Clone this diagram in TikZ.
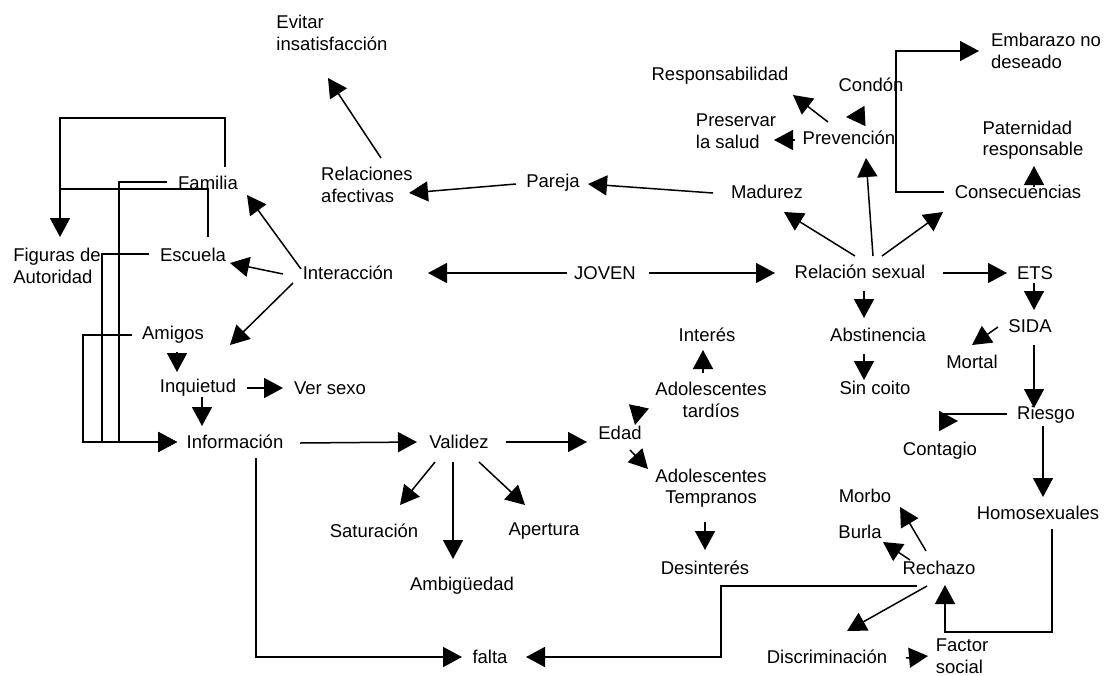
\documentclass[tikz,border=0pt]{standalone}
\usepackage{fontspec}
\setmainfont{Liberation Sans}
\usetikzlibrary{arrows.meta}

\begin{document}
\begin{tikzpicture}[x=1pt,y=-1pt,
        every node/.style={inner sep=0pt,font=\fontsize{18.5}{21.5}\selectfont},
        ln/.style={line width=1.5pt},
        arr/.style={line width=1.5pt,-{Triangle[length=19pt,width=20pt]}}]
        \useasboundingbox (0,0) rectangle (1107,675);
        % left side
        \node[align=left] (evitar) at (332,33) {Evitar\\insatisfacción};
        \node[align=left] (relaciones) at (367,185) {Relaciones\\afectivas};
        \node (pareja) at (553,183) {Pareja};
        \node (familia) at (208,183) {Familia};
        \node (escuela) at (193,255) {Escuela};
        \node[align=left] (figuras) at (57,266) {Figuras de\\Autoridad};
        \node (interaccion) at (348,273) {Interacción};
        \node (joven) at (605,273) {JOVEN};
        \node (amigos) at (173,335) {Amigos};
        \node (inquietud) at (198,388) {Inquietud};
        \node (versexo) at (330,388) {Ver sexo};
        \node (informacion) at (235,442) {Información};
        \node (validez) at (459,442) {Validez};
        \node (saturacion) at (374,531) {Saturación};
        \node (ambiguedad) at (462,586) {Ambigüedad};
        \node (apertura) at (544,531) {Apertura};
        \node (falta) at (490,657) {falta};
        % edad
        \node (interes) at (707,335) {Interés};
        \node[align=center] (tardios) at (711,400) {Adolescentes\\tardíos};
        \node (edad) at (620,433) {Edad};
        \node[align=center] (tempranos) at (711,488) {Adolescentes\\Tempranos};
        \node (desinteres) at (705,568) {Desinterés};
        % right side
        \node (responsab) at (720,76) {Responsabilidad};
        \node[align=left] (preservar) at (736,131) {Preservar\\la salud};
        \node (condon) at (871,85) {Condón};
        \node (prevencion) at (849,138) {Prevención};
        \node (madurez) at (767,192) {Madurez};
        \node[align=left] (embarazo) at (1046,51) {Embarazo no\\deseado};
        \node[align=left] (paternidad) at (1033,140) {Paternidad\\responsable};
        \node (consecuencias) at (1018,192) {Consecuencias};
        \node (relsexual) at (860,272) {Relación sexual};
        \node (ets) at (1035,273) {ETS};
        \node (sida) at (1030,326) {SIDA};
        \node (mortal) at (972,362) {Mortal};
        \node (abstinencia) at (878,335) {Abstinencia};
        \node (sincoito) at (875,388) {Sin coito};
        \node (riesgo) at (1046,415) {Riesgo};
        \node (contagio) at (940,451) {Contagio};
        \node (homosexuales) at (1038,513) {Homosexuales};
        \node (morbo) at (865,496) {Morbo};
        \node (burla) at (860,532) {Burla};
        \node (rechazo) at (939,568) {Rechazo};
        \node (discrim) at (827,657) {Discriminación};
        \node[align=left] (factor) at (962,656) {Factor\\social};

        % JOVEN
        \draw[arr] ([shift={(-38,0)}]joven.center) -- ([shift={(80,0)}]interaccion.center);
        \draw[arr] ([shift={(44,0)}]joven.center) -- ([shift={(-85,1)}]relsexual.center);
        % interaccion
        \draw[arr] ([shift={(-47,-4)}]interaccion.center) -- ([shift={(39,12)}]familia.center);
        \draw[arr] ([shift={(-65,1)}]interaccion.center) -- ([shift={(37,8)}]escuela.center);
        \draw[arr] ([shift={(-55,10)}]interaccion.center) -- ([shift={(57,10)}]amigos.center);
        \draw[arr] ([shift={(17,-16)}]familia.center) -- ++(0,-49) -| ([shift={(3,-29)}]figuras.center);
        \draw[ln] ([shift={(15,-18)}]escuela.center) |- ([shift={(3,-77)}]figuras.center);
        \draw[arr] ([shift={(-41,-1)}]familia.center) -- ++(-48,0) |- ([shift={(-58,0)}]informacion.center);
        \draw[arr] ([shift={(-44,-1)}]escuela.center) -- ++(-47,0) |- ([shift={(-58,0)}]informacion.center);
        \draw[arr] ([shift={(-41,0)}]amigos.center) -- ++(-49,0) |- ([shift={(-58,0)}]informacion.center);
        \draw[arr] ([shift={(4,17)}]amigos.center) -- ([shift={(-21,-16)}]inquietud.center);
        \draw[arr] ([shift={(4,9)}]inquietud.center) -- ([shift={(-33,-16)}]informacion.center);
        \draw[arr] ([shift={(49,0)}]inquietud.center) -- ([shift={(-47,0)}]versexo.center);
        % informacion, validez
        \draw[arr] ([shift={(65,1)}]informacion.center) -- ([shift={(-42,0)}]validez.center);
        \draw[arr] ([shift={(21,16)}]informacion.center) |- ([shift={(-28,0)}]falta.center);
        \draw[arr] ([shift={(47,0)}]validez.center) -- ([shift={(-33,9)}]edad.center);
        \draw[arr] ([shift={(-24,20)}]validez.center) -- ([shift={(26,-26)}]saturacion.center);
        \draw[arr] ([shift={(-6,20)}]validez.center) -- ([shift={(-9,-27)}]ambiguedad.center);
        \draw[arr] ([shift={(20,20)}]validez.center) -- ([shift={(-19,-26)}]apertura.center);
        % edad
        \draw[arr] ([shift={(-72,6)}]tardios.center) -- ([shift={(15,-8)}]edad.center);
        \draw[arr] ([shift={(10,17)}]edad.center) -- ([shift={(-63,-19)}]tempranos.center);
        \draw[arr] ([shift={(-8,-27)}]tardios.center) -- ([shift={(-4,15)}]interes.center);
        \draw[arr] ([shift={(-6,34)}]tempranos.center) -- ([shift={(0,-18)}]desinteres.center);
        % relacion sexual
        \draw[arr] ([shift={(-54,1)}]madurez.center) -- ([shift={(35,1)}]pareja.center);
        \draw[arr] ([shift={(-37,1)}]pareja.center) -- ([shift={(42,8)}]relaciones.center);
        \draw[arr] ([shift={(14,-27)}]relaciones.center) -- ([shift={(-4,45)}]evitar.center);
        \draw[arr] ([shift={(-5,-16)}]relsexual.center) -- ([shift={(17,20)}]madurez.center);
        \draw[arr] ([shift={(13,-16)}]relsexual.center) -- ([shift={(17,20)}]prevencion.center);
        \draw[arr] ([shift={(22,-16)}]relsexual.center) -- ([shift={(-75,20)}]consecuencias.center);
        \draw[arr] ([shift={(-21,-16)}]prevencion.center) -- ([shift={(73,19)}]responsab.center);
        \draw[arr] ([shift={(16,-22)}]prevencion.center) -- ([shift={(-25,32)}]condon.center);
        \draw[arr] ([shift={(-54,2)}]prevencion.center) -- ([shift={(38,9)}]preservar.center);
        \draw[arr] ([shift={(-74,0)}]consecuencias.center) -- ++(-48,0) |- ([shift={(-67,0)}]embarazo.center);
        \draw[arr] ([shift={(16,-5)}]consecuencias.center) -- ([shift={(1,26)}]paternidad.center);
        \draw[arr] ([shift={(83,1)}]relsexual.center) -- ([shift={(-28,0)}]ets.center);
        \draw[arr] ([shift={(4,19)}]relsexual.center) -- ([shift={(-14,-17)}]abstinencia.center);
        \draw[arr] ([shift={(-14,19)}]abstinencia.center) -- ([shift={(-11,-8)}]sincoito.center);
        % ETS
        \draw[arr] ([shift={(-1,10)}]ets.center) -- ([shift={(4,-16)}]sida.center);
        \draw[arr] ([shift={(-32,1)}]sida.center) -- ([shift={(0,-17)}]mortal.center);
        \draw[arr] ([shift={(4,19)}]sida.center) -- ([shift={(-12,-7)}]riesgo.center);
        \draw[arr] ([shift={(-39,-1)}]riesgo.center) -- ++(-66,0) -- ++(0,7) -- ([shift={(18,-30)}]contagio.center);
        \draw[arr] ([shift={(-3,11)}]riesgo.center) -- ([shift={(5,-16)}]homosexuales.center);
        \draw[arr] ([shift={(14,16)}]homosexuales.center) -- ++(0,103) -| ([shift={(6,17)}]rechazo.center);
        % rechazo
        \draw[arr] ([shift={(-13,-17)}]rechazo.center) -- ([shift={(35,11)}]morbo.center);
        \draw[arr] ([shift={(-29,-8)}]rechazo.center) -- ([shift={(23,10)}]burla.center);
        \draw[arr] ([shift={(-12,18)}]rechazo.center) -- ([shift={(20,-26)}]discrim.center);
        \draw[arr] ([shift={(-22,18)}]rechazo.center) -- ++(-196,0) |- ([shift={(36,0)}]falta.center);
        \draw[arr] ([shift={(79,1)}]discrim.center) -- ([shift={(-34,0)}]factor.center);
\end{tikzpicture}
\end{document}
